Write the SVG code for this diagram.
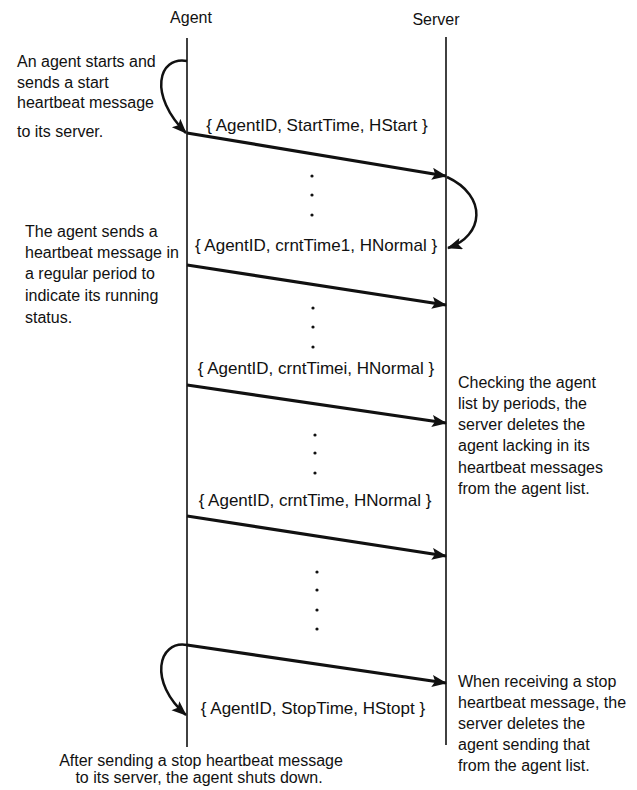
<svg xmlns="http://www.w3.org/2000/svg" width="637" height="790" viewBox="0 0 637 790">
<style>
text { font-family: "Liberation Sans", Arial, sans-serif; font-size: 16px; fill: #111; }
.lbl { font-size: 17px; text-anchor: middle; }
.life { stroke: #111; stroke-width: 1.6; fill: none; }
.msg { stroke: #111; stroke-width: 3.2; fill: none; marker-end: url(#ah); }
.loop { stroke: #111; stroke-width: 2.5; fill: none; marker-end: url(#ah); }
.dot { fill: #111; }
</style>
<defs>
<marker id="ah" markerUnits="userSpaceOnUse" markerWidth="16" markerHeight="14" refX="14" refY="6" orient="auto">
<path d="M0,0 L15,6 L0,12 L3,6 z" fill="#111"/>
</marker>
</defs>
<rect width="637" height="790" fill="#fff"/>

<g id="agent">
<text x="191" y="23" text-anchor="middle">Agent</text>
<line class="life" x1="187" y1="38" x2="187" y2="747"/>
</g>
<g id="server">
<text x="436" y="25" text-anchor="middle">Server</text>
<line class="life" x1="446" y1="37" x2="446" y2="745"/>
</g>

<g id="connectors">
<path class="loop" d="M187,61 C158,56 148,95 186,133"/>
<path class="msg" d="M187,133 L446,176"/>
<path class="loop" d="M447,177 C488,196 484,236 448,248"/>
<path class="msg" d="M187,265 L446,305"/>
<path class="msg" d="M187,385 L446,423"/>
<path class="msg" d="M187,516 L446,556"/>
<path class="msg" d="M187,645 L446,683"/>
<path class="loop" d="M187,645 C158,640 148,682 186,715"/>
</g>

<g id="labels">
<text class="lbl" x="317" y="131">{ AgentID, StartTime, HStart }</text>
<text class="lbl" x="316" y="251">{ AgentID, crntTime1, HNormal }</text>
<text class="lbl" x="316" y="374">{ AgentID, crntTimei, HNormal }</text>
<text class="lbl" x="315" y="506">{ AgentID, crntTime, HNormal }</text>
<text class="lbl" x="313" y="714">{ AgentID, StopTime, HStopt }</text>
</g>

<g id="dots">
<circle class="dot" cx="312" cy="176" r="1.6"/>
<circle class="dot" cx="312" cy="195" r="1.6"/>
<circle class="dot" cx="312" cy="215" r="1.6"/>
<circle class="dot" cx="313" cy="308" r="1.6"/>
<circle class="dot" cx="313" cy="327" r="1.6"/>
<circle class="dot" cx="313" cy="347" r="1.6"/>
<circle class="dot" cx="315" cy="435" r="1.6"/>
<circle class="dot" cx="315" cy="453" r="1.6"/>
<circle class="dot" cx="315" cy="473" r="1.6"/>
<circle class="dot" cx="317" cy="572" r="1.6"/>
<circle class="dot" cx="317" cy="590" r="1.6"/>
<circle class="dot" cx="317" cy="610" r="1.6"/>
<circle class="dot" cx="317" cy="629" r="1.6"/>
</g>

<g id="note-start">
<text x="17" y="67">An agent starts and</text>
<text x="17" y="88">sends a start</text>
<text x="17" y="108">heartbeat message</text>
<text x="17" y="137">to its server.</text>
</g>
<g id="note-normal">
<text x="25" y="237">The agent sends a</text>
<text x="25" y="258">heartbeat message in</text>
<text x="25" y="279">a regular period to</text>
<text x="25" y="301">indicate its running</text>
<text x="25" y="323">status.</text>
</g>
<g id="note-check">
<text x="458" y="388">Checking the agent</text>
<text x="458" y="409">list by periods, the</text>
<text x="458" y="430">server deletes the</text>
<text x="458" y="451">agent lacking in its</text>
<text x="458" y="473">heartbeat messages</text>
<text x="458" y="494">from the agent list.</text>
</g>
<g id="note-stop-server">
<text x="458" y="687">When receiving a stop</text>
<text x="458" y="708">heartbeat message, the</text>
<text x="458" y="729">server deletes the</text>
<text x="458" y="750">agent sending that</text>
<text x="458" y="771">from the agent list.</text>
</g>
<g id="note-stop-agent">
<text x="201" y="766" text-anchor="middle">After sending a stop heartbeat message</text>
<text x="199" y="783" text-anchor="middle">to its server, the agent shuts down.</text>
</g>
</svg>
